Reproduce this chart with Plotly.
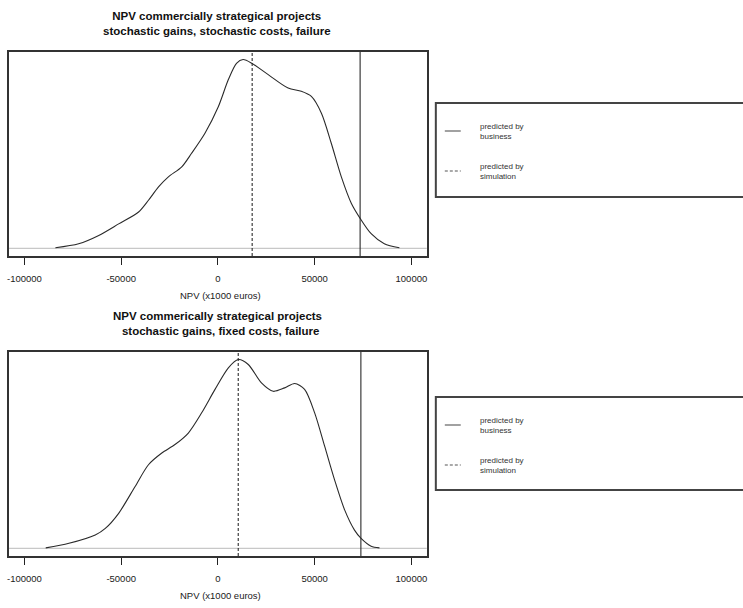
import plotly.graph_objects as go

# ---------------- data ----------------
titles = [
    "NPV commercially strategical projects<br>stochastic gains, stochastic costs, failure",
    "NPV commerically strategical projects<br>  stochastic gains, fixed costs, failure",
]
x_title = "NPV (x1000 euros)"
tick_vals = [-100000, -50000, 0, 50000, 100000]
tick_text = ["-100000", "-50000", "0", "50000", "100000"]
legend_labels = ["predicted by<br>business", "predicted by<br>simulation"]

# panel 1 density (relative)
npv1 = [-84000, -72000, -61600, -51300, -41000, -35900, -30700, -25600, -18700, -13600,
        -6700, 200, 5400, 9600, 13000, 17700, 26000, 36300, 43100, 48300,
        53500, 58600, 63800, 69000, 73600, 79200, 86000, 93800]
dens1 = [0.004, 0.025, 0.069, 0.13, 0.193, 0.255, 0.326, 0.379, 0.432, 0.504,
         0.61, 0.75, 0.894, 0.98, 1.0, 0.979, 0.92, 0.849, 0.832, 0.805,
         0.716, 0.557, 0.379, 0.238, 0.158, 0.078, 0.025, 0.004]
business1 = 73500
simulation1 = 17700

# panel 2 density (relative)
npv2 = [-89000, -77000, -63400, -58200, -51300, -42800, -35900, -29000, -22200, -15300,
        -8400, -1500, 5400, 10500, 15700, 22500, 28600, 34500, 39700, 44800,
        50000, 55200, 60300, 65500, 70600, 74000, 79200, 83500]
dens2 = [0.003, 0.027, 0.071, 0.106, 0.186, 0.328, 0.443, 0.505, 0.55, 0.611,
         0.718, 0.842, 0.956, 1.0, 0.974, 0.876, 0.832, 0.85, 0.873, 0.842,
         0.718, 0.54, 0.363, 0.204, 0.097, 0.053, 0.012, 0.003]
business2 = 73900
simulation2 = 10500

# ---------------- layout ----------------
W, H = 743, 608
FONT = "Liberation Sans, Arial, sans-serif"
DARK = "#2a2a2a"

def px(v):  # horizontal pixel -> paper
    return v / W

def py(v):  # vertical pixel (from top) -> paper
    return 1 - v / H

fig = go.Figure()

panels = [
    dict(x=npv1, y=dens1, bus=business1, sim=simulation1, top=52, bottom=256,
         title_y=[16, 33], xt_y=295, leg=[103, 197], xa="x", ya="y"),
    dict(x=npv2, y=dens2, bus=business2, sim=simulation2, top=352, bottom=556,
         title_y=[316, 333], xt_y=595, leg=[397, 490], xa="x2", ya="y2"),
]

annotations = []
shapes = []
left, right = 7, 426

for i, p in enumerate(panels):
    xa, ya = p["xa"], p["ya"]
    sfx = "" if i == 0 else "2"
    # baseline (gray) at density 0
    fig.add_trace(go.Scatter(x=[-108000, 108000], y=[0, 0], mode="lines",
                             line=dict(color="#c8c8c8", width=1.2),
                             xaxis=xa, yaxis=ya, showlegend=False, hoverinfo="skip"))
    # density curve
    fig.add_trace(go.Scatter(x=p["x"], y=p["y"], mode="lines",
                             line=dict(color=DARK, width=1.1, shape="spline", smoothing=0.8),
                             xaxis=xa, yaxis=ya, showlegend=False))
    # vertical lines
    fig.add_trace(go.Scatter(x=[p["bus"], p["bus"]], y=[-0.04, 1.04], mode="lines",
                             line=dict(color=DARK, width=1.1),
                             xaxis=xa, yaxis=ya, showlegend=False))
    fig.add_trace(go.Scatter(x=[p["sim"], p["sim"]], y=[-0.04, 1.04], mode="lines",
                             line=dict(color=DARK, width=1.1, dash="3px,2px"),
                             xaxis=xa, yaxis=ya, showlegend=False))

    dom_y = [py(p["bottom"]), py(p["top"])]
    axis_common = dict(domain=[px(left), px(right)], range=[-108000, 108000],
                       tickvals=tick_vals, ticktext=tick_text, ticks="outside",
                       ticklen=7, tickwidth=1.2, tickcolor="#222",
                       showline=True, linecolor="#333", linewidth=1.5, mirror=True,
                       showgrid=False, zeroline=False, ticklabelstandoff=6,
                       tickfont=dict(family=FONT, size=9.5, color="#1a1a1a"))
    fig.layout["xaxis" + sfx] = dict(axis_common, anchor=ya)
    fig.layout["yaxis" + sfx] = dict(domain=dom_y, range=[-0.04, 1.04], showticklabels=False,
                                     ticks="", showgrid=False, zeroline=False,
                                     showline=True, linecolor="#333", linewidth=1.5,
                                     mirror=True, anchor=xa)

    # title
    annotations.append(dict(text="<b>" + titles[i] + "</b>", x=px(216), y=py(p["title_y"][0] - 8),
                            xref="paper", yref="paper", xanchor="center", yanchor="top",
                            showarrow=False, align="center",
                            font=dict(family=FONT, size=11.5, color="#111")))
    # x title
    annotations.append(dict(text=x_title, x=px(219), y=py(p["xt_y"]), xref="paper", yref="paper",
                            xanchor="center", yanchor="middle", showarrow=False,
                            font=dict(family=FONT, size=9.5, color="#1a1a1a")))
    # legend box
    lt, lb = p["leg"]
    shapes.append(dict(type="rect", xref="paper", yref="paper", x0=px(435), x1=px(760),
                       y0=py(lb), y1=py(lt), line=dict(color="#444", width=2),
                       fillcolor="white"))
    # legend entries
    for j, (lab, dash) in enumerate(zip(legend_labels, ["solid", "3px,2px"])):
        yc = lt + 28 + j * 40
        shapes.append(dict(type="line", xref="paper", yref="paper", x0=px(444), x1=px(460),
                           y0=py(yc), y1=py(yc), line=dict(color="#555", width=1.1, dash=dash)))
        annotations.append(dict(text=lab, x=px(477), y=py(yc), xref="paper", yref="paper",
                                xanchor="left", yanchor="middle", showarrow=False, align="left",
                                font=dict(family=FONT, size=8, color="#333")))

fig.update_layout(width=W, height=H, margin=dict(l=0, r=0, t=0, b=0),
                  paper_bgcolor="white", plot_bgcolor="white",
                  annotations=annotations, shapes=shapes, showlegend=False)

fig.write_html("out.html", config={"displayModeBar": False},
               post_script="document.body.style.margin='0';document.body.style.overflow='hidden';")
